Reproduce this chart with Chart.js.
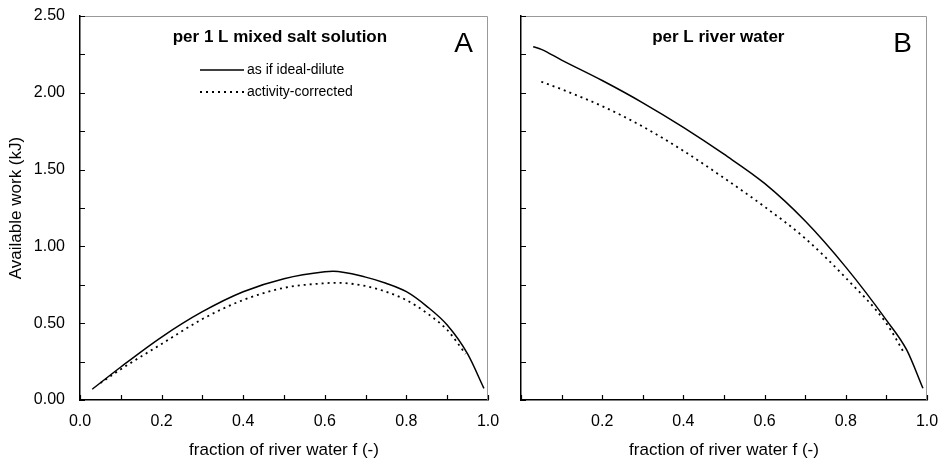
<!DOCTYPE html>
<html>
<head>
<meta charset="utf-8">
<script src="https://cdn.jsdelivr.net/npm/chart.js@4.4.0/dist/chart.umd.min.js"></script>
<style>
    body { margin: 0; background: #fff; width: 950px; height: 466px; overflow: hidden; position: relative; }
    .panneau { position: absolute; top: 0; height: 466px; }
    #panneauA { left: 0; width: 505px; }
    #panneauB { left: 505px; width: 445px; }
</style>
</head>
<body>
<div class="panneau" id="panneauA"><canvas id="graphiqueA" width="505" height="466"></canvas></div>
<div class="panneau" id="panneauB"><canvas id="graphiqueB" width="445" height="466"></canvas></div>
<script>
// panneau A : par 1 L de solution mélangée
var fractionIdealA = [0.03, 0.1, 0.2, 0.3, 0.4, 0.5, 0.6, 0.62, 0.7, 0.75, 0.8, 0.85, 0.9, 0.95, 0.99];
var travailIdealA = [0.07, 0.215, 0.41, 0.575, 0.705, 0.79, 0.835, 0.838, 0.80, 0.76, 0.705, 0.61, 0.488, 0.30, 0.076];
var fractionActiviteA = [0.05, 0.1, 0.2, 0.3, 0.4, 0.5, 0.6, 0.63, 0.7, 0.75, 0.8, 0.85, 0.9, 0.945];
var travailActiviteA = [0.11, 0.2, 0.365, 0.527, 0.651, 0.73, 0.76, 0.763, 0.742, 0.705, 0.65, 0.566, 0.456, 0.30];

// panneau B : par L d'eau de rivière
var fractionIdealB = [0.03, 0.05, 0.1, 0.2, 0.3, 0.4, 0.5, 0.6, 0.7, 0.8, 0.9, 0.95, 0.99];
var travailIdealB = [2.30, 2.283, 2.213, 2.08, 1.935, 1.775, 1.60, 1.41, 1.165, 0.865, 0.52, 0.326, 0.076];
var fractionActiviteB = [0.05, 0.1, 0.2, 0.3, 0.4, 0.5, 0.6, 0.7, 0.8, 0.9, 0.945];
var travailActiviteB = [2.072, 2.023, 1.913, 1.78, 1.622, 1.445, 1.258, 1.052, 0.795, 0.499, 0.30];

var etiquettes = ['as if ideal-dilute', 'activity-corrected'];
var titres = ['per 1 L mixed salt solution', 'per L river water'];
var lettres = ['A', 'B'];

var police = '"Liberation Sans", Arial, sans-serif';
Chart.defaults.font.family = police;
Chart.defaults.color = '#000';

function points(xs, ys) {
    return xs.map(function (x, i) { return { x: x, y: ys[i] }; });
}

function jeuxDonnees(fIdeal, wIdeal, fAct, wAct) {
    return [
        {
            label: etiquettes[0],
            data: points(fIdeal, wIdeal),
            borderColor: '#000', borderWidth: 1.5,
            pointRadius: 0, cubicInterpolationMode: 'monotone', fill: false
        },
        {
            label: etiquettes[1],
            data: points(fAct, wAct),
            borderColor: '#000', borderWidth: 1.8, borderDash: [2, 4],
            pointRadius: 0, cubicInterpolationMode: 'monotone', fill: false
        }
    ];
}

// cadre gris, graduations vers l'intérieur, titres et légende
var decor = {
    id: 'decor',
    afterDraw: function (chart) {
        var ctx = chart.ctx, a = chart.chartArea;
        var sx = chart.scales.x, sy = chart.scales.y;
        var opt = chart.options.plugins.decor;
        ctx.save();

        ctx.strokeStyle = '#999';
        ctx.lineWidth = 1;
        ctx.beginPath();
        ctx.moveTo(a.left, a.top + 0.5);
        ctx.lineTo(a.right - 0.5, a.top + 0.5);
        ctx.lineTo(a.right - 0.5, a.bottom);
        ctx.stroke();

        ctx.strokeStyle = '#000';
        ctx.lineWidth = 1.2;
        ctx.beginPath();
        sx.ticks.forEach(function (t) {
            var px = Math.round(sx.getPixelForValue(t.value)) + 0.5;
            ctx.moveTo(px, a.bottom);
            ctx.lineTo(px, a.bottom - 5);
        });
        sy.ticks.forEach(function (t) {
            var py = Math.round(sy.getPixelForValue(t.value)) + 0.5;
            ctx.moveTo(a.left, py);
            ctx.lineTo(a.left + 5, py);
        });
        ctx.stroke();

        ctx.fillStyle = '#000';
        ctx.textBaseline = 'middle';
        ctx.textAlign = 'center';
        ctx.font = 'bold 17px ' + police;
        ctx.fillText(opt.titre, a.left + (a.right - a.left) * opt.posTitre, a.top + 21);

        ctx.textAlign = 'right';
        ctx.font = '28px ' + police;
        ctx.fillText(opt.lettre, a.right - 15, a.top + 28);

        if (opt.legende) {
            ctx.font = '14px ' + police;
            ctx.textAlign = 'left';
            chart.data.datasets.forEach(function (ds, i) {
                var y = a.top + 54 + i * 22;
                ctx.beginPath();
                ctx.lineWidth = ds.borderWidth;
                ctx.setLineDash(ds.borderDash || []);
                ctx.moveTo(a.left + 120, y);
                ctx.lineTo(a.left + 164, y);
                ctx.stroke();
                ctx.setLineDash([]);
                ctx.fillText(ds.label, a.left + 167, y);
            });
        }
        ctx.restore();
    }
};

function axeX(masquerZero) {
    return {
        type: 'linear', min: 0, max: 1,
        grid: { display: false, drawTicks: false },
        border: { color: '#000', width: 1.5 },
        ticks: {
            stepSize: 0.1, autoSkip: false, maxRotation: 0, padding: 12,
            font: { size: 16 }, color: '#000',
            callback: function (v) {
                var n = Math.round(v * 10);
                if (n % 2 !== 0) return '';
                if (masquerZero && n === 0) return '';
                return (n / 10).toFixed(1);
            }
        },
        title: { display: true, text: 'fraction of river water f (-)', color: '#000', font: { size: 17 }, padding: { top: 4, bottom: 5 } },
        afterFit: function (s) {
            s.height = 66;
            s.paddingLeft = 0;
            s.paddingRight = 0;
        }
    };
}

function axeY(avecEtiquettes, largeur) {
    return {
        type: 'linear', min: 0, max: 2.5,
        grid: { display: false, drawTicks: false },
        border: { color: '#000', width: 1.5 },
        ticks: {
            stepSize: 0.25, autoSkip: false, padding: 15,
            font: { size: 16 }, color: '#000',
            callback: function (v) {
                if (!avecEtiquettes) return '';
                var n = Math.round(v * 4);
                return n % 2 === 0 ? (n / 4).toFixed(2) : '';
            }
        },
        title: { display: avecEtiquettes, text: 'Available work (kJ)', color: '#000', font: { size: 17 }, padding: { top: 6 } },
        afterFit: function (s) {
            s.width = largeur;
            s.paddingTop = 0;
            s.paddingBottom = 0;
        }
    };
}

var graphiqueA = new Chart(document.getElementById('graphiqueA').getContext('2d'), {
    type: 'line',
    data: { datasets: jeuxDonnees(fractionIdealA, travailIdealA, fractionActiviteA, travailActiviteA) },
    options: {
        responsive: false,
        animation: false,
        layout: { padding: { left: 0, top: 16, right: 17, bottom: 0 } },
        scales: { x: axeX(false), y: axeY(true, 80) },
        plugins: {
            legend: { display: false },
            tooltip: { enabled: false },
            decor: { titre: titres[0], lettre: lettres[0], posTitre: 0.49, legende: true }
        }
    },
    plugins: [decor]
});

var graphiqueB = new Chart(document.getElementById('graphiqueB').getContext('2d'), {
    type: 'line',
    data: { datasets: jeuxDonnees(fractionIdealB, travailIdealB, fractionActiviteB, travailActiviteB) },
    options: {
        responsive: false,
        animation: false,
        layout: { padding: { left: 0, top: 16, right: 23, bottom: 0 } },
        scales: { x: axeX(true), y: axeY(false, 16) },
        plugins: {
            legend: { display: false },
            tooltip: { enabled: false },
            decor: { titre: titres[1], lettre: lettres[1], posTitre: 0.486, legende: false }
        }
    },
    plugins: [decor]
});
</script>
</body>
</html>
